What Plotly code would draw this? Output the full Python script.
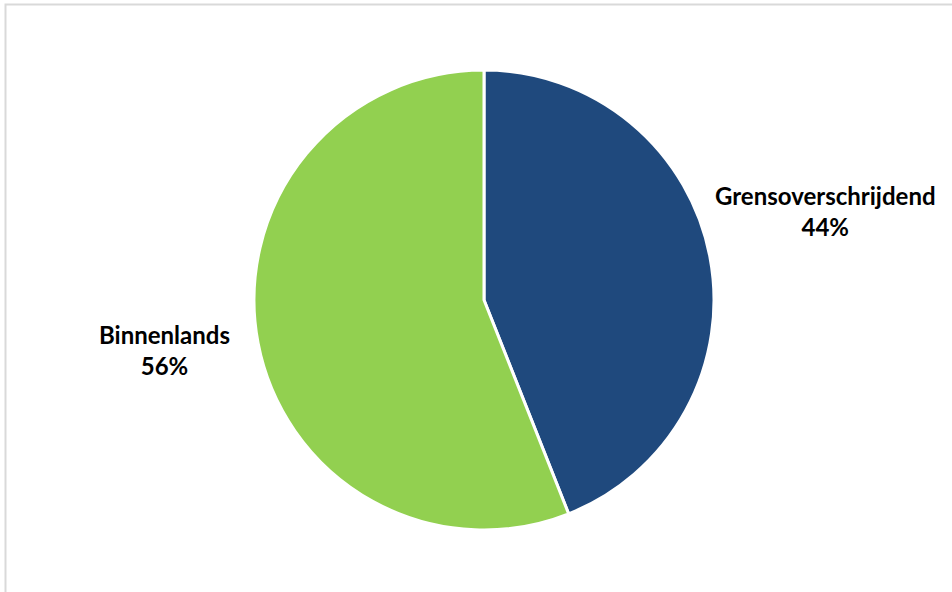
import plotly.graph_objects as go

# Share of cases by type
categories = ["Grensoverschrijdend", "Binnenlands"]
shares = [44, 56]
colors = ["#1F497D", "#92D050"]

W, H = 952, 592
cx, cy, r = 484, 300, 230

fig = go.Figure(
    go.Pie(
        labels=categories,
        values=shares,
        sort=False,
        direction="clockwise",
        rotation=0,
        marker=dict(colors=colors, line=dict(color="white", width=3)),
        textinfo="none",
        hoverinfo="label+percent",
        domain=dict(x=[(cx - r) / W, (cx + r) / W],
                    y=[(H - cy - r) / H, (H - cy + r) / H]),
        showlegend=False,
    )
)

# Outside labels for each slice
label_pos = {"Grensoverschrijdend": (825, 211), "Binnenlands": (164, 350)}
total = sum(shares)
for name, val in zip(categories, shares):
    px, py = label_pos[name]
    fig.add_annotation(
        x=px / W, y=1 - py / H, xref="paper", yref="paper",
        xanchor="center", yanchor="middle",
        text=f"<b>{name}</b><br><b>{round(val / total * 100)}%</b>",
        showarrow=False, align="center",
        font=dict(family="Lato", size=24, color="#000000"),
    )

# Chart frame
fig.add_shape(
    type="rect", xref="paper", yref="paper",
    x0=5.5 / W, x1=1.02, y0=-0.02, y1=1 - 4.5 / H,
    line=dict(color="#D9D9D9", width=2),
)

fig.update_layout(
    width=W, height=H,
    margin=dict(l=0, r=0, t=0, b=0),
    paper_bgcolor="white", plot_bgcolor="white",
)

fig.write_html("out.html")
